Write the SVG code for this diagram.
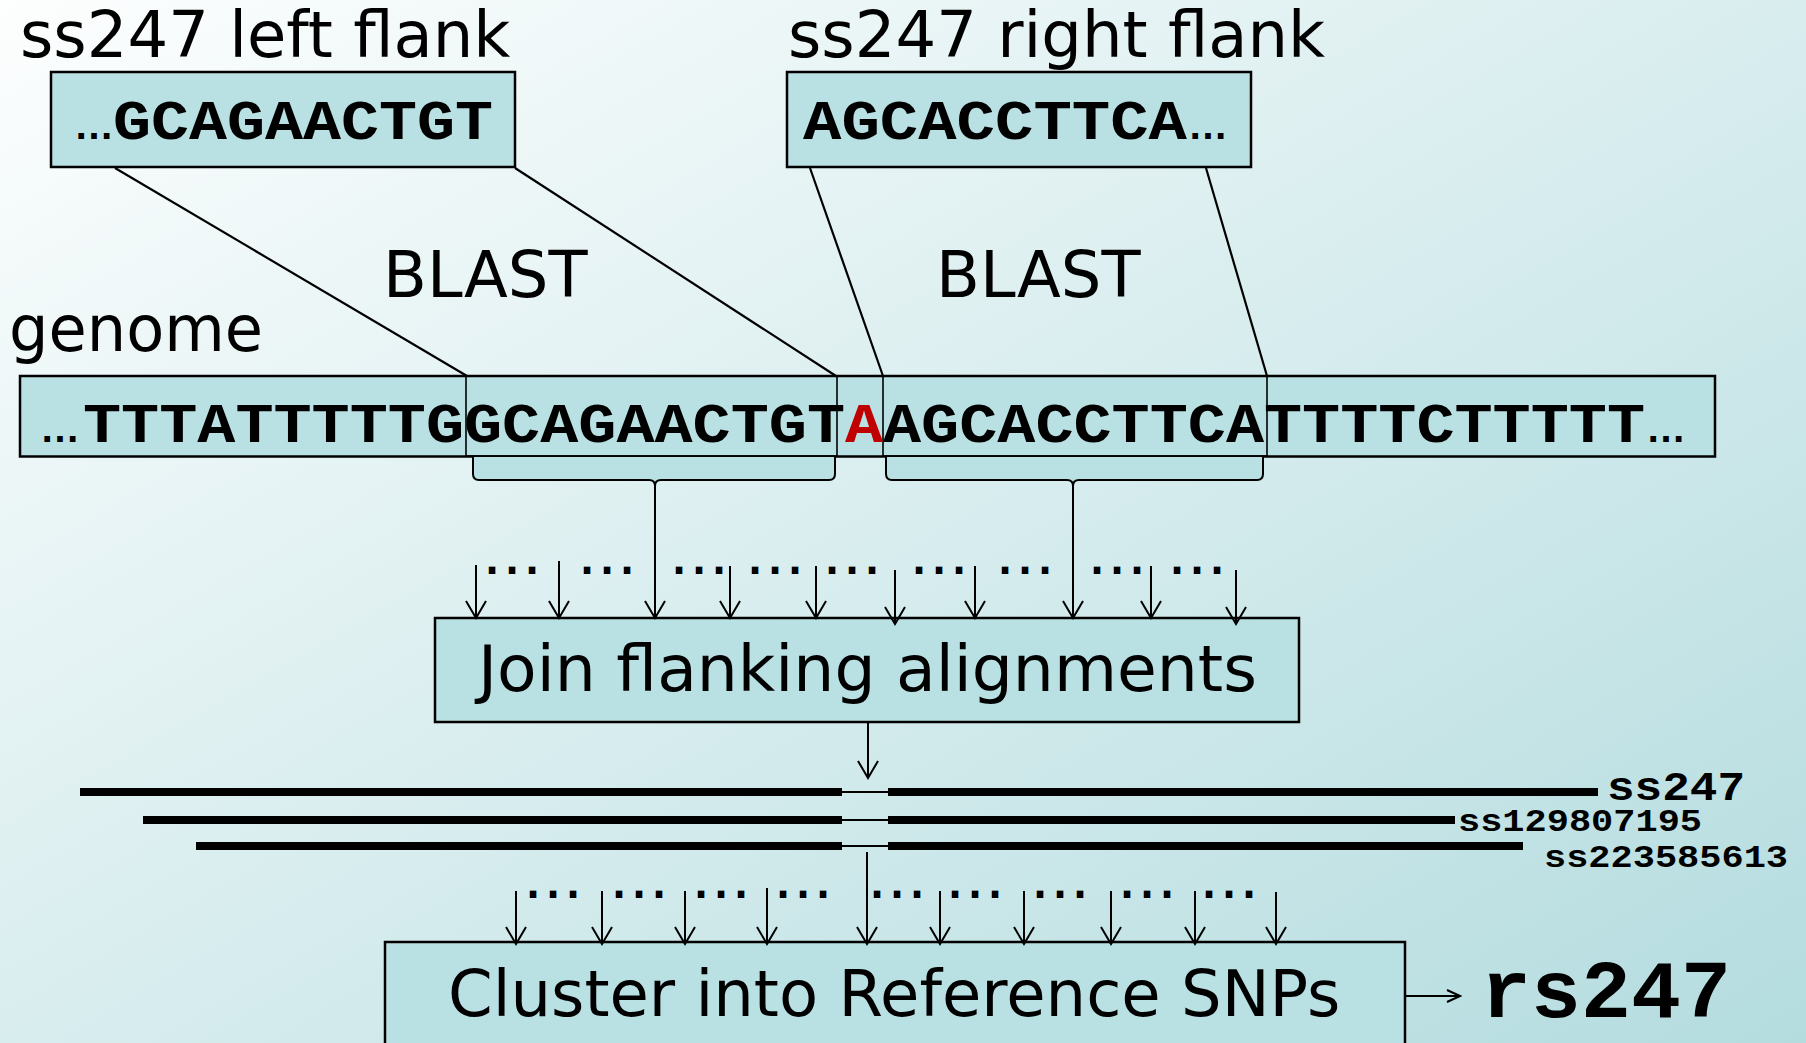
<svg xmlns="http://www.w3.org/2000/svg" width="1806" height="1043" viewBox="0 0 1806 1043">
  <defs>
    <linearGradient id="bg" x1="0" y1="0" x2="1" y2="1">
      <stop offset="0" stop-color="#fdfefe"/>
      <stop offset="1" stop-color="#b4dcdf"/>
    </linearGradient>
    <marker id="head" markerUnits="userSpaceOnUse" viewBox="-20 -12 22 24" markerWidth="22" markerHeight="24" refX="0" refY="0" orient="auto">
      <path d="M -17 -10 L 0 0 L -17 10" fill="none" stroke="#000" stroke-width="2"/>
    </marker>
    <marker id="headSmall" markerUnits="userSpaceOnUse" viewBox="-16 -8 18 16" markerWidth="18" markerHeight="16" refX="0" refY="0" orient="auto">
      <path d="M -13 -6 L 0 0 L -13 6" fill="none" stroke="#000" stroke-width="2"/>
    </marker>
    <style>
      .box { fill: #b9e0e3; stroke: #000; stroke-width: 2.5; }
      .sub { fill: none; stroke: #000; stroke-width: 1.6; }
      .brace { fill: #b9e0e3; stroke: #000; stroke-width: 2; }
      .label { font-family: "DejaVu Sans", Verdana, sans-serif; font-size: 64px; fill: #000; }
      .seq { font-family: "Liberation Mono", "Courier New", monospace; font-weight: bold; font-size: 56px; fill: #000; }
      .ell { font-family: "Liberation Sans", Arial, sans-serif; font-weight: bold; font-size: 40px; fill: #000; }
      .dots { font-family: "DejaVu Sans Mono", "Liberation Mono", monospace; font-weight: bold; font-size: 40px; fill: #000; }
      .snp { font-family: "Liberation Mono", "Courier New", monospace; font-weight: bold; fill: #000; }
      .alt { fill: #c00000; }
      .line { fill: none; stroke: #000; stroke-width: 2.2; }
      .arrow { fill: none; stroke: #000; stroke-width: 2; marker-end: url(#head); }
      .bar { stroke: #000; stroke-width: 8; }
      .gap { stroke: #000; stroke-width: 2; }
    </style>
  </defs>

  <rect x="0" y="0" width="1806" height="1043" fill="url(#bg)"/>

  <!-- flank labels -->
  <g id="title-left"><text class="label" x="20" y="57">ss247 left flank</text></g>
  <g id="title-right"><text class="label" x="788" y="57">ss247 right flank</text></g>

  <!-- left flank sequence -->
  <g id="flank-left">
    <rect class="box" x="51" y="72" width="464" height="95"/>
    <text class="ell" x="74" y="139">…</text>
    <text class="seq" x="113" y="139" textLength="380" lengthAdjust="spacingAndGlyphs">GCAGAACTGT</text>
  </g>

  <!-- right flank sequence -->
  <g id="flank-right">
    <rect class="box" x="787" y="72" width="464" height="95"/>
    <text class="seq" x="803" y="139" textLength="384" lengthAdjust="spacingAndGlyphs">AGCACCTTCA</text>
    <text class="ell" x="1188" y="139">…</text>
  </g>

  <g id="blast-left"><text class="label" x="383" y="297">BLAST</text></g>
  <g id="blast-right"><text class="label" x="936" y="297">BLAST</text></g>
  <g id="genome-label"><text class="label" x="9" y="351" textLength="254" lengthAdjust="spacingAndGlyphs">genome</text></g>

  <!-- genome sequence with the two aligned flank regions -->
  <g id="genome">
    <rect class="box" x="20" y="376" width="1695" height="80.5"/>
    <path class="brace" d="M 473 457 L 473 474 Q 473 480 479 480 L 649 480 Q 655 480 655 486 Q 655 480 661 480 L 829 480 Q 835 480 835 474 L 835 457"/>
    <path class="brace" d="M 886 457 L 886 474 Q 886 480 892 480 L 1067 480 Q 1073 480 1073 486 Q 1073 480 1079 480 L 1257 480 Q 1263 480 1263 474 L 1263 457"/>
    <rect class="sub" x="466" y="376" width="371" height="80"/>
    <rect class="sub" x="883" y="376" width="384" height="80"/>
    <text class="ell" x="40" y="442">…</text>
    <text class="seq" x="83" y="442" textLength="381" lengthAdjust="spacingAndGlyphs">TTTATTTTTG</text>
    <text class="seq" x="464" y="442" textLength="381" lengthAdjust="spacingAndGlyphs">GCAGAACTGT</text>
    <text class="seq alt" x="845" y="442" textLength="38" lengthAdjust="spacingAndGlyphs">A</text>
    <text class="seq" x="883" y="442" textLength="381" lengthAdjust="spacingAndGlyphs">AGCACCTTCA</text>
    <text class="seq" x="1264" y="442" textLength="381" lengthAdjust="spacingAndGlyphs">TTTTCTTTTT</text>
    <text class="ell" x="1646" y="442">…</text>
  </g>

  <!-- join step -->
  <g id="join">
    <rect class="box" x="435" y="618" width="864" height="104"/>
    <text class="label" x="478" y="691" textLength="779" lengthAdjust="spacingAndGlyphs">Join flanking alignments</text>
  </g>

  <!-- joined alignments of the submitted SNPs -->
  <g id="alignments">
    <line class="bar" x1="80" y1="792" x2="842" y2="792"/>
    <line class="gap" x1="842" y1="792" x2="888" y2="792"/>
    <line class="bar" x1="888" y1="792" x2="1598" y2="792"/>
    <line class="bar" x1="143" y1="820" x2="842" y2="820"/>
    <line class="gap" x1="842" y1="820" x2="888" y2="820"/>
    <line class="bar" x1="888" y1="820" x2="1455" y2="820"/>
    <line class="bar" x1="196" y1="846" x2="842" y2="846"/>
    <line class="gap" x1="842" y1="846" x2="888" y2="846"/>
    <line class="bar" x1="888" y1="846" x2="1523" y2="846"/>
    <text class="snp" x="1607" y="800" font-size="41" textLength="138" lengthAdjust="spacingAndGlyphs">ss247</text>
    <text class="snp" x="1458" y="831" font-size="31" textLength="244" lengthAdjust="spacingAndGlyphs">ss129807195</text>
    <text class="snp" x="1544" y="867" font-size="31" textLength="244" lengthAdjust="spacingAndGlyphs">ss223585613</text>
  </g>

  <!-- clustering step -->
  <g id="cluster">
    <rect class="box" x="385" y="942" width="1020" height="120"/>
    <text class="label" x="448" y="1016">Cluster into Reference SNPs</text>
  </g>

  <g id="refsnp">
    <text class="snp" x="1481" y="1017" font-size="82" textLength="250" lengthAdjust="spacingAndGlyphs">rs247</text>
  </g>

  <!-- elided alignments -->
  <g id="ellipses">
    <text class="dots" x="480" y="574" textLength="64" lengthAdjust="spacing">...</text>
    <text class="dots" x="575" y="574" textLength="64" lengthAdjust="spacing">...</text>
    <text class="dots" x="667" y="574" textLength="64" lengthAdjust="spacing">...</text>
    <text class="dots" x="743" y="574" textLength="64" lengthAdjust="spacing">...</text>
    <text class="dots" x="820" y="574" textLength="64" lengthAdjust="spacing">...</text>
    <text class="dots" x="907" y="574" textLength="64" lengthAdjust="spacing">...</text>
    <text class="dots" x="993" y="574" textLength="64" lengthAdjust="spacing">...</text>
    <text class="dots" x="1085" y="574" textLength="64" lengthAdjust="spacing">...</text>
    <text class="dots" x="1165" y="574" textLength="64" lengthAdjust="spacing">...</text>
    <text class="dots" x="521" y="898" textLength="64" lengthAdjust="spacing">...</text>
    <text class="dots" x="607" y="898" textLength="64" lengthAdjust="spacing">...</text>
    <text class="dots" x="689" y="898" textLength="64" lengthAdjust="spacing">...</text>
    <text class="dots" x="771" y="898" textLength="64" lengthAdjust="spacing">...</text>
    <text class="dots" x="865" y="898" textLength="64" lengthAdjust="spacing">...</text>
    <text class="dots" x="943" y="898" textLength="64" lengthAdjust="spacing">...</text>
    <text class="dots" x="1028" y="898" textLength="64" lengthAdjust="spacing">...</text>
    <text class="dots" x="1115" y="898" textLength="64" lengthAdjust="spacing">...</text>
    <text class="dots" x="1197" y="898" textLength="64" lengthAdjust="spacing">...</text>
  </g>

  <g id="connectors">
    <!-- BLAST hits of the flanks on the genome -->
    <line class="line" x1="115" y1="168" x2="467" y2="376"/>
    <line class="line" x1="515" y1="168" x2="836" y2="376"/>
    <line class="line" x1="810" y1="168" x2="883" y2="376"/>
    <line class="line" x1="1206" y1="168" x2="1267" y2="376"/>
    <!-- alignments into the join step -->
    <line class="arrow" x1="476" y1="565" x2="476" y2="618"/>
    <line class="arrow" x1="559" y1="561" x2="559" y2="618"/>
    <line class="arrow" x1="655" y1="486" x2="655" y2="618"/>
    <line class="arrow" x1="730" y1="566" x2="730" y2="618"/>
    <line class="arrow" x1="816" y1="566" x2="816" y2="618"/>
    <line class="arrow" x1="895" y1="570" x2="895" y2="624"/>
    <line class="arrow" x1="975" y1="566" x2="975" y2="618"/>
    <line class="arrow" x1="1073" y1="486" x2="1073" y2="618"/>
    <line class="arrow" x1="1151" y1="566" x2="1151" y2="618"/>
    <line class="arrow" x1="1236" y1="570" x2="1236" y2="624"/>
    <!-- join output -->
    <line class="arrow" x1="868" y1="722" x2="868" y2="778"/>
    <!-- submitted SNPs into clustering -->
    <line class="arrow" x1="516" y1="891" x2="516" y2="944"/>
    <line class="arrow" x1="602" y1="891" x2="602" y2="944"/>
    <line class="arrow" x1="685" y1="891" x2="685" y2="944"/>
    <line class="arrow" x1="767" y1="888" x2="767" y2="944"/>
    <line class="arrow" x1="867" y1="852" x2="867" y2="944"/>
    <line class="arrow" x1="940" y1="891" x2="940" y2="944"/>
    <line class="arrow" x1="1024" y1="891" x2="1024" y2="944"/>
    <line class="arrow" x1="1111" y1="891" x2="1111" y2="944"/>
    <line class="arrow" x1="1195" y1="891" x2="1195" y2="944"/>
    <line class="arrow" x1="1276" y1="892" x2="1276" y2="944"/>
    <!-- clustering output -->
    <line class="line" x1="1405" y1="996" x2="1460" y2="996" marker-end="url(#headSmall)"/>
  </g>
</svg>
